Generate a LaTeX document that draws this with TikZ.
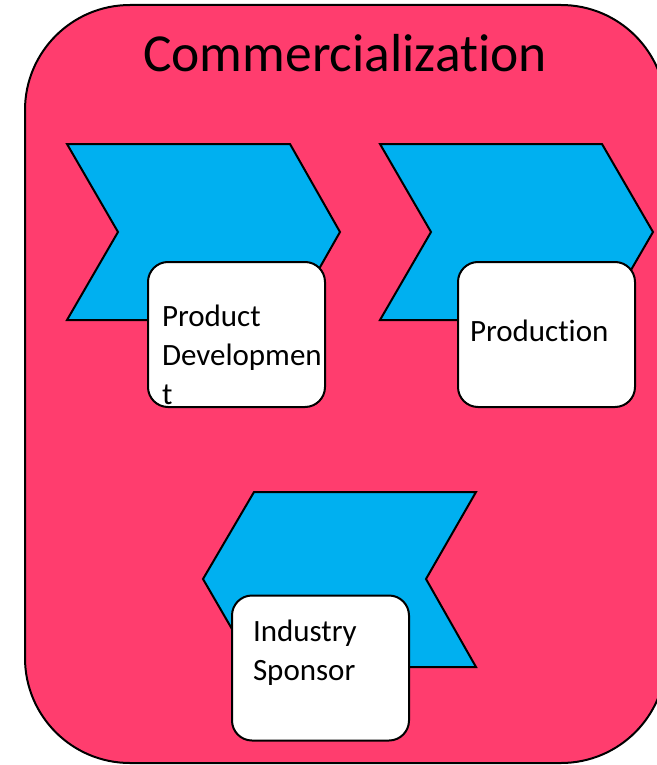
\documentclass[tikz,border=0pt]{standalone}
\usepackage{fontspec}
\setmainfont{Carlito}[Ligatures=NoCommon]
\definecolor{panelpink}{RGB}{255,61,110}
\definecolor{chevronblue}{RGB}{0,176,240}

\begin{document}
\begin{tikzpicture}[x=1pt,y=-1pt,line width=2pt,
  chevron/.style={draw=black,fill=chevronblue},
  card/.style={draw=black,fill=white,rounded corners=20pt,minimum width=177pt,minimum height=145pt,inner sep=0pt},
  cardtext/.style={anchor=base west,align=left,inner sep=0pt,font=\fontsize{31}{39}\selectfont}]
  \useasboundingbox (0,0) rectangle (656,765);
  % background panel
  \draw[fill=panelpink,rounded corners=105pt] (25,5) rectangle (666,763);
  \node[anchor=base,inner sep=0pt,font=\fontsize{53.5}{64}\selectfont] (title) at (345,72) {Commercialization};
  % chevrons
  \draw[chevron] (67,144) -- (290,144) -- (340,232) -- (290,320) -- (67,320) -- (118,232) -- cycle;
  \draw[chevron] (380,144) -- (602,144) -- (653,232) -- (602,320) -- (380,320) -- (431,232) -- cycle;
  \draw[chevron] (254,492) -- (476,492) -- (426,579) -- (476,667) -- (254,667) -- (203,579) -- cycle;
  % cards (text is set on the baseline of its last line)
  \node[card] (dev) at (236.5,334.5) {};
  \node[cardtext] (devtext) at (161,404) {Product\\Developmen\\t};
  \node[card] (prod) at (546.5,334.5) {};
  \node[cardtext] (prodtext) at (469,341) {Production};
  \node[card] (sponsor) at (320.5,668) {};
  \node[cardtext] (sponsortext) at (252,680) {Industry\\Sponsor};
\end{tikzpicture}
\end{document}
